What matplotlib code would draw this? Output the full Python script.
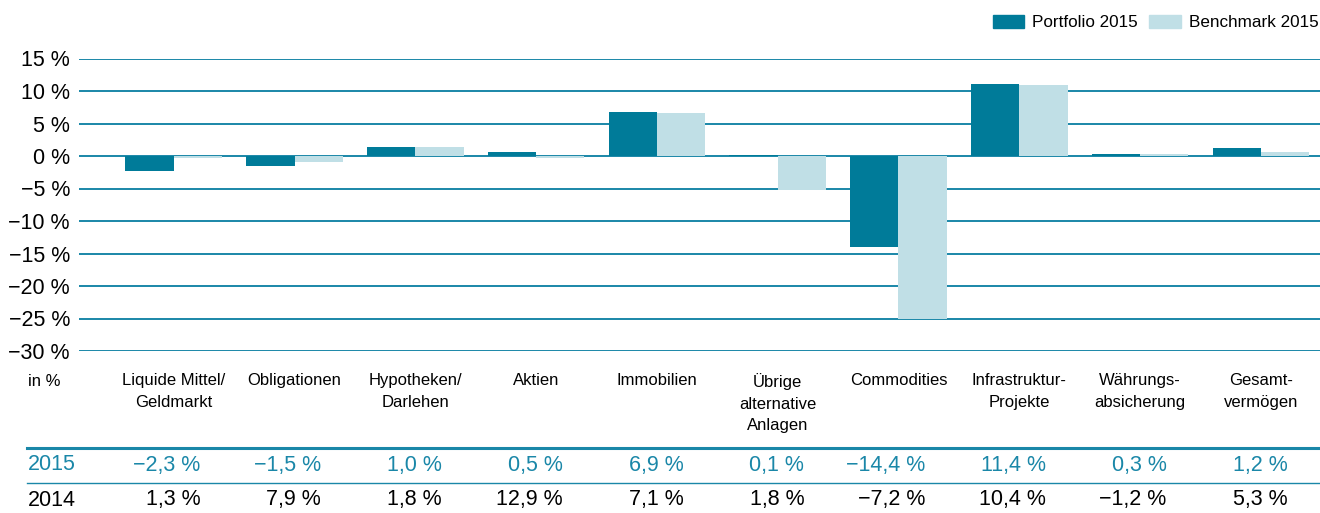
import matplotlib.pyplot as plt
import numpy as np
from matplotlib.lines import Line2D
from matplotlib.patches import Patch
from matplotlib import transforms

plt.rcParams["font.family"] = ["Liberation Sans", "DejaVu Sans"]

categories = [
    "Liquide Mittel/\nGeldmarkt",
    "Obligationen",
    "Hypotheken/\nDarlehen",
    "Aktien",
    "Immobilien",
    "Übrige\nalternative\nAnlagen",
    "Commodities",
    "Infrastruktur-\nProjekte",
    "Währungs-\nabsicherung",
    "Gesamt-\nvermögen",
]
portfolio_2015 = [-2.3, -1.5, 1.4, 0.6, 6.8, 0.15, -14.0, 11.1, 0.35, 1.3]
benchmark_2015 = [-0.3, -0.9, 1.4, -0.3, 6.6, -5.2, -25.1, 10.9, 0.3, 0.6]
row_2015 = ["−2,3 %", "−1,5 %", "1,0 %", "0,5 %", "6,9 %", "0,1 %", "−14,4 %", "11,4 %", "0,3 %", "1,2 %"]
row_2014 = ["1,3 %", "7,9 %", "1,8 %", "12,9 %", "7,1 %", "1,8 %", "−7,2 %", "10,4 %", "−1,2 %", "5,3 %"]
y_ticks = [15, 10, 5, 0, -5, -10, -15, -20, -25, -30]

c_port = "#007b99"
c_bench = "#c0dfe6"
c_line = "#1a87a8"

fig = plt.figure(figsize=(13.2, 5.13), dpi=100)
ax = fig.add_axes([79 / 1320, 1 - 351 / 513, 1 - 79 / 1320, (351 - 58.5) / 513])

x = np.arange(len(categories))
w = 0.4
ax.bar(x - w / 2, portfolio_2015, w, color=c_port, zorder=3)
ax.bar(x + w / 2, benchmark_2015, w, color=c_bench, zorder=3)

ax.set_xlim(-0.785, 9.49)
ax.set_ylim(-30, 15)
ax.set_yticks(y_ticks)
ax.set_yticklabels([f"{v} %".replace("-", "−") for v in y_ticks], fontsize=15.5)
for v in y_ticks:
    ax.axhline(v, color=c_line, lw=1.4, zorder=1)
for s in ax.spines.values():
    s.set_visible(False)
ax.tick_params(axis="y", length=0, pad=6.5)
ax.tick_params(axis="x", length=0, pad=16)
ax.set_xticks(x)
ax.set_xticklabels(categories, fontsize=12, linespacing=1.55, va="top")

trans = transforms.blended_transform_factory(ax.transData, fig.transFigure)
fig.text(28 / 1320, 1 - 382 / 513, "in %", fontsize=12, va="center", ha="left")

fig.add_artist(Line2D([27 / 1320, 1], [1 - 448 / 513] * 2, color=c_line, lw=2.2))
fig.add_artist(Line2D([27 / 1320, 1], [1 - 483 / 513] * 2, color=c_line, lw=1.0))
fig.text(28 / 1320, 1 - 465 / 513, "2015", fontsize=15.5, color=c_line, va="center")
fig.text(28 / 1320, 1 - 500 / 513, "2014", fontsize=15.5, color="black", va="center")
for i in range(len(categories)):
    ax.text(x[i] + 0.22, 1 - 465 / 513, row_2015[i], transform=trans, ha="right",
            va="center", fontsize=15.5, color=c_line, clip_on=False)
    ax.text(x[i] + 0.22, 1 - 500 / 513, row_2014[i], transform=trans, ha="right",
            va="center", fontsize=15.5, color="black", clip_on=False)

handles = [Patch(color=c_port, label="Portfolio 2015"), Patch(color=c_bench, label="Benchmark 2015")]
fig.legend(handles=handles, loc="upper right", bbox_to_anchor=(1.0, 1 - 13 / 513), ncol=2,
           frameon=False, fontsize=12.3, handlelength=1.85, handleheight=0.85,
           handletextpad=0.45, columnspacing=0.7, borderaxespad=0, borderpad=0.1)

fig.savefig("out.png", dpi=100)
